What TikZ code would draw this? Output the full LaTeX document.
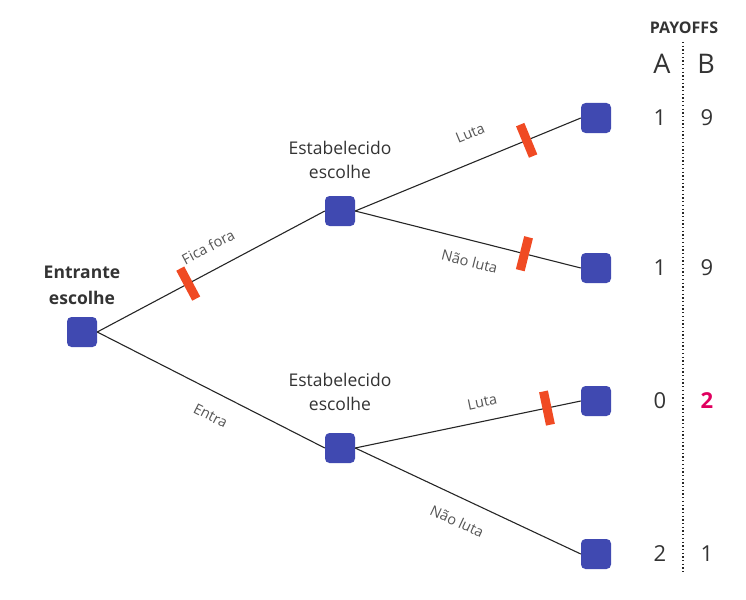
\documentclass[tikz,border=0pt]{standalone}
\usepackage{fontspec}
\setmainfont{Open Sans}
\definecolor{nodeblue}{HTML}{4049B1}
\definecolor{barred}{HTML}{F04A23}
\definecolor{labgray}{HTML}{555555}
\definecolor{txt}{HTML}{333333}
\definecolor{pinkred}{HTML}{E0005F}
\begin{document}
\begin{tikzpicture}[x=1pt,y=-1pt,
  sq/.style={fill=nodeblue, rounded corners=4.5pt, minimum size=30pt, inner sep=0pt},
  edge/.style={draw=black!85, line width=1.1pt},
  cut/.style={fill=barred, minimum width=9pt, minimum height=34pt, inner sep=0pt, sloped, pos=#1},
  elab/.style={font=\fontsize{14.5}{16}\selectfont, text=labgray, sloped, inner sep=0pt},
  title/.style={font=\fontsize{17.5}{24}\selectfont, text=txt, align=center},
  pay/.style={font=\fontsize{22}{24}\selectfont, text=txt},
  hd/.style={font=\fontsize{27}{30}\selectfont, text=txt}]
\useasboundingbox (0,0) rectangle (746,599);

% decision nodes
\node[sq] (r) at (82,332) {};
\node[sq] (u) at (340,211) {};
\node[sq] (l) at (340,448) {};
\node[sq] (t1) at (596,118) {};
\node[sq] (t2) at (596,268) {};
\node[sq] (t3) at (596,401) {};
\node[sq] (t4) at (596,554) {};

% titles
\node[title, font=\fontsize{17.5}{26}\selectfont\bfseries] (rt) at (82,285) {Entrante\\escolhe};
\node[title] (ut) at (340,160) {Estabelecido\\escolhe};
\node[title] (lt) at (340,392) {Estabelecido\\escolhe};

% edges
\draw[edge] (r.east) -- (u.west)
  node[cut=0.40] (c1) {}
  node[elab, pos=0.535, yshift=23pt] (e1) {Fica fora};
\draw[edge] (r.east) -- (l.west)
  node[elab, pos=0.544, yshift=-23pt] (e2) {Entra};
\draw[edge] (u.east) -- (t1.west)
  node[cut=0.76] (c2) {}
  node[elab, pos=0.557, yshift=28pt] (e3) {Luta};
\draw[edge] (u.east) -- (t2.west)
  node[cut=0.75] (c3) {}
  node[elab, pos=0.53, yshift=-21pt] (e4) {Não luta};
\draw[edge] (l.east) -- (t3.west)
  node[cut=0.85] (c4) {}
  node[elab, pos=0.58, yshift=19pt] (e5) {Luta};
\draw[edge] (l.east) -- (t4.west)
  node[elab, pos=0.495, yshift=-23pt] (e6) {Não luta};

% payoffs
\node[font=\fontsize{16}{18}\selectfont\bfseries, text=txt] (ph) at (684,28) {PAYOFFS};
\node[hd] (ha) at (662,64) {A};
\node[hd] (hb) at (706,64) {B};
\coordinate (dtop) at (683,42);
\coordinate (dbot) at (683,574);
\draw[line width=1.3pt, dash pattern=on 1.3pt off 2.4pt, black!85] (dtop) -- (dbot);

\node[pay] (a1) at (660,118) {1};
\node[pay] (b1) at (707,118) {9};
\node[pay] (a2) at (660,268) {1};
\node[pay] (b2) at (707,268) {9};
\node[pay] (a3) at (660,401) {0};
\node[pay, text=pinkred, font=\fontsize{22}{24}\selectfont\bfseries] (b3) at (707,401) {2};
\node[pay] (a4) at (660,554) {2};
\node[pay] (b4) at (707,554) {1};
\end{tikzpicture}
\end{document}
